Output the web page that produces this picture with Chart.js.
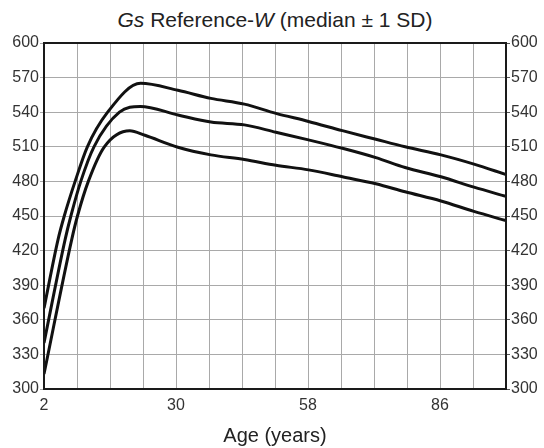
<!DOCTYPE html>
<html>
<head>
<meta charset="utf-8">
<script src="https://cdn.jsdelivr.net/npm/chart.js@4"></script>
<style>
  html, body { margin: 0; padding: 0; background: #ffffff; }
  #wrap { position: relative; width: 544px; height: 448px; }
  #title { position: absolute; top: 7px; left: 44px; width: 462px; text-align: center;
           font-family: "Liberation Sans", Arial, sans-serif; font-size: 21px; line-height: 26px; color: #222; }
  canvas { position: absolute; left: 0; top: 0; }
</style>
</head>
<body>
<div id="wrap">
  <div id="title"><i>Gs</i> Reference-<i>W</i> (median ± 1 SD)</div>
  <canvas id="c" width="544" height="448"></canvas>
</div>
<script>
// ---- data ----
const upperAges   = [2, 5.0, 6.3, 8.6, 11.2, 15.5, 22.5, 30.4, 37.4, 44.5, 51.2, 58.1, 65.3, 72.4, 78.6, 86.2, 93.2, 100];
const upperValues = [370, 430, 450, 480, 510, 540, 565, 559, 552, 547, 539, 532, 524, 516.5, 510, 503, 495, 486];

const medianAges   = [2, 6.5, 7.7, 9.8, 12.6, 18, 22.4, 30.4, 37.4, 44.5, 51.2, 58.1, 65.3, 72.4, 78.6, 86.2, 93.2, 100];
const medianValues = [340, 430, 450, 480, 510, 540, 545, 537.6, 531.5, 529, 522.6, 516, 508.7, 500.6, 492, 484, 475, 467];

const lowerAges   = [2, 7.9, 9.1, 11.4, 14.8, 20.2, 23.4, 30.4, 37.4, 44.5, 51.2, 58.1, 65.3, 72.4, 78.6, 86.2, 93.2, 100];
const lowerValues = [313, 430, 450, 480, 510, 524, 520, 509.6, 503, 499, 494, 490, 484, 478, 471, 463, 454, 446];

const xGridAges   = [2, 9, 16, 23, 30, 37, 44, 51, 58, 65, 72, 79, 86, 93, 100];
const xTickLabels = [2, 30, 58, 86];
const yTicks      = [300, 330, 360, 390, 420, 450, 480, 510, 540, 570, 600];

function pts(xs, ys) { return xs.map((x, i) => ({ x: x, y: ys[i] })); }

const FONT = "'Liberation Sans', Arial, sans-serif";

const lineStyle = {
  borderColor: '#111',
  borderWidth: 3,
  pointRadius: 0,
  fill: false,
  cubicInterpolationMode: 'monotone'
};

const frame = {
  id: 'frame',
  afterDraw(chart) {
    const a = chart.chartArea, ctx = chart.ctx;
    ctx.save();
    ctx.strokeStyle = '#1a1a1a';
    ctx.lineWidth = 2;
    ctx.strokeRect(a.left, a.top, a.right - a.left, a.bottom - a.top);
    ctx.restore();
  }
};

new Chart(document.getElementById('c'), {
  type: 'line',
  data: {
    datasets: [
      Object.assign({ label: '+1 SD', data: pts(upperAges, upperValues) }, lineStyle),
      Object.assign({ label: 'median', data: pts(medianAges, medianValues) }, lineStyle),
      Object.assign({ label: '-1 SD', data: pts(lowerAges, lowerValues) }, lineStyle)
    ]
  },
  options: {
    responsive: false,
    animation: false,
    layout: { padding: { top: 43, left: 0, right: 0, bottom: 0 } },
    plugins: { legend: { display: false }, tooltip: { enabled: false }, title: { display: false } },
    scales: {
      x: {
        type: 'linear',
        min: 2, max: 100,
        afterBuildTicks(scale) { scale.ticks = xGridAges.map(v => ({ value: v })); },
        afterFit(scale) { scale.height = 59; },
        grid: { color: '#a9a9a9', lineWidth: 1, drawTicks: false },
        border: { display: false },
        ticks: {
          autoSkip: false, maxRotation: 0, padding: 7,
          color: '#333', font: { family: FONT, size: 16 },
          callback: v => xTickLabels.includes(v) ? String(v) : ''
        },
        title: {
          display: true, text: 'Age (years)', color: '#222',
          font: { family: FONT, size: 20 }, padding: { top: 0, bottom: 0 }
        }
      },
      y: {
        position: 'left',
        min: 300, max: 600,
        afterBuildTicks(scale) { scale.ticks = yTicks.map(v => ({ value: v })); },
        afterFit(scale) { scale.width = 44; },
        grid: { color: '#a9a9a9', lineWidth: 1, drawTicks: true, tickLength: 4 },
        border: { display: false },
        ticks: { padding: 1, color: '#333', font: { family: FONT, size: 16 } }
      },
      y2: {
        position: 'right',
        min: 300, max: 600,
        afterBuildTicks(scale) { scale.ticks = yTicks.map(v => ({ value: v })); },
        afterFit(scale) { scale.width = 38; },
        grid: { drawOnChartArea: false, drawTicks: true, tickLength: 4, color: '#555' },
        border: { display: false },
        ticks: { padding: 1, color: '#333', font: { family: FONT, size: 16 } }
      }
    }
  },
  plugins: [frame]
});
</script>
</body>
</html>
